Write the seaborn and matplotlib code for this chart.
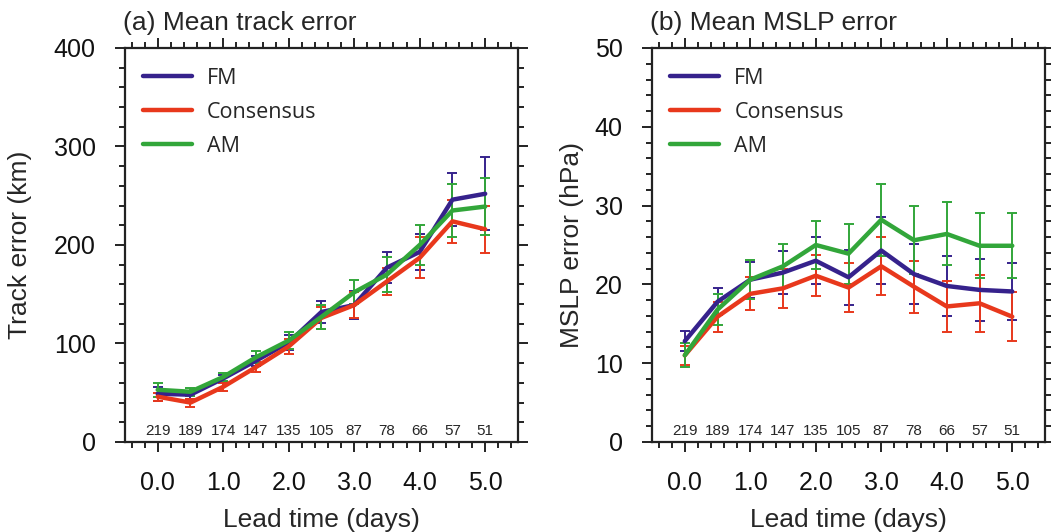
import numpy as np
import pandas as pd
import matplotlib
matplotlib.use('Agg')
import matplotlib.pyplot as plt
import seaborn as sns
from matplotlib.ticker import MultipleLocator
import matplotlib.transforms as mtransforms

# lead times (days) and number of cases
lead_days = [0.0, 0.5, 1.0, 1.5, 2.0, 2.5, 3.0, 3.5, 4.0, 4.5, 5.0]
n_cases = [219, 189, 174, 147, 135, 105, 87, 78, 66, 57, 51]

# (a) mean track error (km) and error bar half-widths
track_fm = [49, 48, 64.5, 82.5, 101, 132, 139, 177, 193, 246, 252]
track_cons = [46, 40, 56, 76, 97, 126, 139, 163, 187, 224, 216]
track_am = [53, 51, 66, 86, 103, 127, 152, 170, 200, 235, 239]
track_fm_err = [7, 4, 4, 5, 8, 11, 14, 16, 18, 27, 37]
track_cons_err = [4, 4, 4, 5, 8, 11, 13, 14, 21, 22, 24]
track_am_err = [7, 4, 4, 6, 9, 12, 12, 18, 20, 27, 29]

# (b) mean MSLP error (hPa) and error bar half-widths
mslp_fm = [12.8, 17.8, 20.6, 21.5, 23.0, 20.9, 24.3, 21.3, 19.8, 19.3, 19.1]
mslp_cons = [11.0, 15.9, 18.8, 19.5, 21.1, 19.6, 22.3, 19.7, 17.2, 17.6, 15.9]
mslp_am = [11.0, 16.8, 20.6, 22.3, 25.0, 23.9, 28.2, 25.6, 26.4, 24.9, 24.9]
mslp_fm_err = [1.3, 1.7, 2.3, 2.7, 3.0, 3.5, 4.3, 3.8, 3.8, 3.9, 3.6]
mslp_cons_err = [1.2, 1.9, 2.1, 2.5, 2.6, 3.1, 3.7, 3.3, 3.2, 3.6, 3.1]
mslp_am_err = [1.5, 2.0, 2.5, 2.8, 3.1, 3.8, 4.6, 4.3, 4.0, 4.1, 4.1]

models = ['FM', 'Consensus', 'AM']
colors = {'FM': '#36228c', 'Consensus': '#e8381c', 'AM': '#32a63a'}

sns.set_theme(style='ticks')
plt.rcParams['font.family'] = ['Liberation Sans', 'DejaVu Sans']


def long_table(fm, cons, am):
    rows = []
    for name, vals in zip(models, [fm, cons, am]):
        for x, v in zip(lead_days, vals):
            rows.append({'lead': x, 'value': v, 'model': name})
    return pd.DataFrame(rows)


def draw_panel(ax, fm, cons, am, errs, title, ylabel, ymax, ymaj, ymin, ylabelpad):
    df = long_table(fm, cons, am)
    for name, vals, e in zip(models, [fm, cons, am], errs):
        ax.errorbar(lead_days, vals, yerr=e, fmt='none', ecolor=colors[name],
                    elinewidth=1.4, capsize=3.6, capthick=1.4, zorder=2)
    sns.lineplot(data=df, x='lead', y='value', hue='model', hue_order=models,
                 palette=colors, linewidth=3.2, ax=ax, zorder=3)

    ax.set_xlim(-0.5, 5.5)
    ax.set_ylim(0, ymax)
    ax.xaxis.set_major_locator(MultipleLocator(1.0))
    ax.xaxis.set_minor_locator(MultipleLocator(0.2))
    ax.yaxis.set_major_locator(MultipleLocator(ymaj))
    ax.yaxis.set_minor_locator(MultipleLocator(ymin))
    ax.xaxis.set_major_formatter(plt.FuncFormatter(lambda v, p: f'{v:.1f}'))
    ax.tick_params(which='both', direction='out', top=True, right=True,
                   width=1.4, colors='#222222', labelcolor='#111111')
    ax.tick_params(which='major', length=7, labelsize=18, pad=14)
    ax.tick_params(which='minor', length=4)
    for sp in ax.spines.values():
        sp.set_linewidth(1.6)
        sp.set_color('#222222')

    ax.set_xlabel('Lead time (days)', fontsize=19, labelpad=9)
    ax.set_ylabel(ylabel, fontsize=19, labelpad=ylabelpad)
    ax.set_title(title, loc='left', fontsize=19, pad=13, x=-0.005)

    trans = mtransforms.blended_transform_factory(ax.transData, ax.transAxes)
    for x, n in zip(lead_days, n_cases):
        ax.text(x, 0.027, str(n), transform=trans, ha='center', va='center',
                fontsize=11)

    leg = ax.legend(loc='upper left', bbox_to_anchor=(0.045, 0.95),
                    frameon=False, handlelength=2.3,
                    handletextpad=0.7, labelspacing=0.6, borderpad=0,
                    borderaxespad=0, prop={'family': 'Open Sans', 'size': 15.5})
    for line in leg.get_lines():
        line.set_linewidth(3.2)


fig = plt.figure(figsize=(10.51, 5.32), dpi=100)
ax_a = fig.add_axes([0.1189, 0.1692, 0.3739, 0.7406])
ax_b = fig.add_axes([0.6204, 0.1692, 0.3739, 0.7406])

draw_panel(ax_a, track_fm, track_cons, track_am,
           [track_fm_err, track_cons_err, track_am_err],
           '(a) Mean track error', 'Track error (km)', 400, 100, 20, 16)
draw_panel(ax_b, mslp_fm, mslp_cons, mslp_am,
           [mslp_fm_err, mslp_cons_err, mslp_am_err],
           '(b) Mean MSLP error', 'MSLP error (hPa)', 50, 10, 2, 8)

fig.savefig('out.png', dpi=100)
